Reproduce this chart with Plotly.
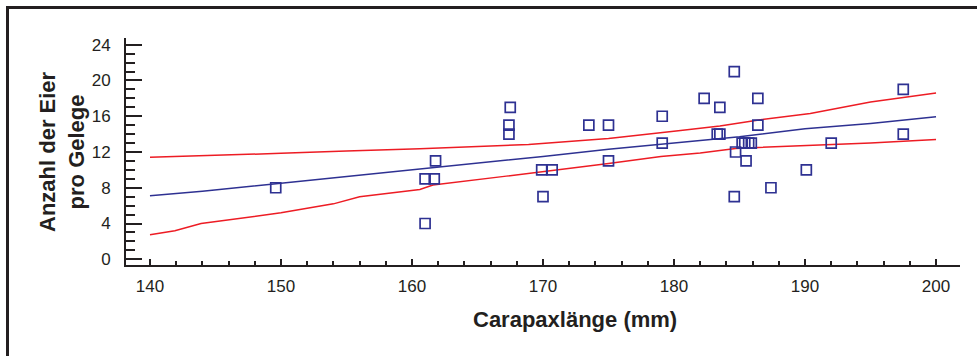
import plotly.graph_objects as go

# Carapace length (mm) and clutch size per female
carapax_mm = [149.6, 161.0, 161.0, 161.7, 161.8, 167.5, 167.4, 167.4, 169.9, 170.7,
              170.0, 173.5, 175.0, 175.0, 179.1, 179.1, 182.3, 183.5, 183.3, 183.5,
              184.6, 184.7, 184.6, 185.2, 185.4, 185.7, 185.9, 185.5, 186.4, 186.4,
              187.4, 190.1, 192.0, 197.5, 197.5]
eier = [8, 4, 9, 9, 11, 17, 15, 14, 10, 10,
        7, 15, 15, 11, 16, 13, 18, 17, 14, 14,
        21, 12, 7, 13, 13, 13, 13, 11, 18, 15,
        8, 10, 13, 19, 14]

# Regression line and confidence band
fit_x = [140, 144, 150, 156, 160.6, 165, 170, 175, 180, 185, 190, 195, 200]
fit_y = [7.1, 7.6, 8.5, 9.4, 10.05, 10.7, 11.5, 12.3, 13.0, 13.7, 14.6, 15.2, 15.95]

upper_x = [140, 143.9, 150, 155, 160.6, 168.9, 175, 180.5, 183.5, 186.6, 190.4, 195, 200]
upper_y = [11.4, 11.55, 11.85, 12.1, 12.35, 12.85, 13.5, 14.4, 14.9, 15.6, 16.3, 17.6, 18.6]

lower_x = [140, 141.9, 143.9, 150, 154, 156, 160.6, 161.6, 167.2, 168.9, 175, 179, 182, 184.7, 189.6, 195, 200]
lower_y = [2.75, 3.2, 4.0, 5.2, 6.2, 7.0, 7.8, 8.3, 9.3, 9.6, 10.7, 11.5, 11.9, 12.4, 12.7, 13.0, 13.4]

x_ticks = [140, 150, 160, 170, 180, 190, 200]
y_ticks = [0, 4, 8, 12, 16, 20, 24]

BLUE = "#2e3192"
RED = "#ed1c24"
INK = "#231f20"

fig = go.Figure()
fig.add_trace(go.Scatter(x=upper_x, y=upper_y, mode="lines",
                         line=dict(color=RED, width=1.5), hoverinfo="skip"))
fig.add_trace(go.Scatter(x=lower_x, y=lower_y, mode="lines",
                         line=dict(color=RED, width=1.5), hoverinfo="skip"))
fig.add_trace(go.Scatter(x=fit_x, y=fit_y, mode="lines",
                         line=dict(color=BLUE, width=1.5), hoverinfo="skip"))
fig.add_trace(go.Scatter(x=carapax_mm, y=eier, mode="markers",
                         marker=dict(symbol="square-open", size=10,
                                     color=BLUE, line=dict(width=1.7, color=BLUE))))

L, R, T, B = 126, 17, 38, 91
W, H = 977, 356
pw, ph = W - L - R, H - T - B


def px(xp):
    return (xp - L) / pw


def py(yp):
    return (H - B - yp) / ph


tick_font = dict(family="Liberation Sans, Arial, sans-serif", size=17, color=INK)
title_font = dict(family="Liberation Sans, Arial, sans-serif", size=22, color=INK)

fig.update_layout(
    width=W, height=H,
    margin=dict(l=L, r=R, t=T, b=B),
    paper_bgcolor="white", plot_bgcolor="white",
    showlegend=False,
    xaxis=dict(range=[138.17, 201.83], tickvals=x_ticks, ticks="inside", ticklen=6,
               tickwidth=1.5, tickcolor=INK, showline=True, linecolor=INK, linewidth=2,
               showgrid=False, zeroline=False, tickfont=tick_font, ticklabelstandoff=5,
               minor=dict(dtick=2, tick0=140, ticks="inside", ticklen=4, tickwidth=1.5,
                          tickcolor=INK, showgrid=False)),
    yaxis=dict(range=[-0.64, 24.75], tickvals=y_ticks, ticks="inside", ticklen=16,
               tickwidth=1.8, tickcolor=INK, showline=True, linecolor=INK, linewidth=2,
               showgrid=False, zeroline=False, tickfont=tick_font, ticklabelstandoff=10,
               minor=dict(dtick=1, tick0=0, ticks="inside", ticklen=9, tickwidth=1.8,
                          tickcolor=INK, showgrid=False)),
    shapes=[
        dict(type="line", xref="paper", yref="paper", x0=px(6), x1=px(990),
             y0=py(7.5), y1=py(7.5), line=dict(color=INK, width=3)),
        dict(type="line", xref="paper", yref="paper", x0=px(7.5), x1=px(7.5),
             y0=py(6), y1=py(370), line=dict(color=INK, width=3)),
    ],
    annotations=[
        dict(text="<b>Carapaxlänge (mm)</b>", xref="paper", yref="paper",
             x=px(575), y=py(319), showarrow=False, xanchor="center", yanchor="middle",
             font=title_font),
        dict(text="<b>Anzahl der Eier<br>pro Gelege</b>", xref="paper", yref="paper",
             x=px(62), y=py(152), showarrow=False, xanchor="center", yanchor="middle",
             textangle=-90, font=title_font),
    ],
)

fig.write_html("out.html")
